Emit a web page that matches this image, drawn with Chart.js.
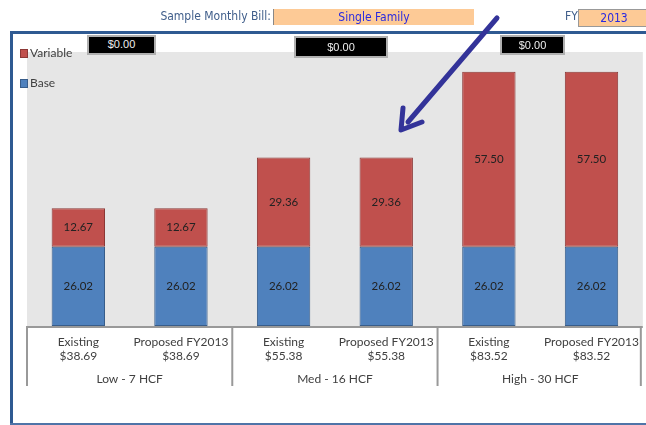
<!DOCTYPE html>
<html>
<head>
<meta charset="utf-8">
<script src="https://cdn.jsdelivr.net/npm/chart.js@4/dist/chart.umd.min.js"></script>
<style>
  body { margin: 0; background: #fff; font-family: "Lato", "DejaVu Sans", sans-serif; }
  #wrap { position: relative; width: 646px; height: 425px; overflow: hidden; }
  #chart { position: absolute; left: 0; top: 0; }
  .hdr { position: absolute; font-size: 12px; color: #3f5d8a; font-family: "DejaVu Sans Condensed", sans-serif; }
  .orange { position: absolute; background: #fdca96; color: #2a2ae0; font-size: 12px; text-align: center; line-height: 16px; font-family: "DejaVu Sans Condensed", sans-serif; }
  .blk { position: absolute; background: #000; color: #eee; font-size: 11px; text-align: center; border: 2px solid #b0b0b0; box-sizing: border-box; font-family: "Liberation Sans", sans-serif; }
  .lg { position: absolute; font-size: 12px; color: #404040; }
  .lg i { display: inline-block; width: 6px; height: 7px; margin-right: 2px; vertical-align: -1px; }
  #frameTop { position: absolute; left: 10px; top: 31px; width: 640px; height: 3px; background: #2f5a92; }
  #frameLeft { position: absolute; left: 10px; top: 31px; width: 3px; height: 394px; background: #2f5a92; }
  #frameBot { position: absolute; left: 10px; top: 423px; width: 640px; height: 2px; background: #4f74a8; }
  svg { position: absolute; left: 0; top: 0; }
</style>
</head>
<body>
<div id="wrap">
  <canvas id="chart" width="648" height="425"></canvas>
  <div class="hdr" style="right:375px;top:9px;">Sample Monthly Bill:</div>
  <div class="orange" style="left:273px;top:9px;width:200px;height:16px;border-left:1px solid #888;">Single Family</div>
  <div class="hdr" style="left:565px;top:9px;">FY</div>
  <div class="orange" style="left:578px;top:9px;width:70px;height:16px;border:1px solid #999;">2013</div>
  <div id="frameTop"></div>
  <div id="frameLeft"></div>
  <div id="frameBot"></div>
  <div class="blk" style="left:87px;top:35px;width:69px;height:20px;line-height:15px;">$0.00</div>
  <div class="blk" style="left:294px;top:36px;width:94px;height:22px;line-height:18px;">$0.00</div>
  <div class="blk" style="left:500px;top:35px;width:65px;height:20px;line-height:16px;">$0.00</div>
  <div class="lg" style="left:20px;top:45px;"><i style="background:#c0504d;border:1px solid #8c3836;"></i>Variable</div>
  <div class="lg" style="left:20px;top:75px;"><i style="background:#4f81bd;border:1px solid #385d8a;"></i>Base</div>
  <svg width="646" height="425">
    <line x1="497" y1="18" x2="408" y2="122" stroke="#333399" stroke-width="5" stroke-linecap="round"/>
    <polyline points="403,108 401,130 422,122" fill="none" stroke="#333399" stroke-width="5" stroke-linecap="round" stroke-linejoin="round"/>
  </svg>
</div>
<script>
// data
const scenarios = ['Existing', 'Proposed FY2013', 'Existing', 'Proposed FY2013', 'Existing', 'Proposed FY2013'];
const totals = ['$38.69', '$38.69', '$55.38', '$55.38', '$83.52', '$83.52'];
const groups = ['Low - 7 HCF', 'Med - 16 HCF', 'High - 30 HCF'];
const baseVals = [26.02, 26.02, 26.02, 26.02, 26.02, 26.02];
const variableVals = [12.67, 12.67, 29.36, 29.36, 57.50, 57.50];

const labels = scenarios.map((s, i) => [s, totals[i]]);

const bgPlugin = {
  id: 'bg',
  beforeDraw(chart) {
    const a = chart.chartArea, c = chart.ctx;
    c.save();
    c.fillStyle = '#e6e6e6';
    c.fillRect(a.left, a.top, a.right - a.left, a.bottom - a.top);
    c.restore();
  }
};

const axisPlugin = {
  id: 'groupAxis',
  afterDraw(chart) {
    const a = chart.chartArea, c = chart.ctx, x = chart.scales.x;
    c.save();
    c.strokeStyle = '#999';
    c.lineWidth = 2;
    c.beginPath();
    c.moveTo(a.left, a.bottom + 1);
    c.lineTo(a.right, a.bottom + 1);
    c.stroke();
    const per = scenarios.length / groups.length;
    c.fillStyle = '#404040';
    c.font = '12px Lato, "DejaVu Sans", sans-serif';
    c.textAlign = 'center';
    c.textBaseline = 'middle';
    for (let g = 0; g <= groups.length; g++) {
      let px;
      if (g == 0) px = a.left;
      else if (g == groups.length) px = a.right - 2;
      else px = (x.getPixelForValue(g * per - 1) + x.getPixelForValue(g * per)) / 2;
      c.beginPath();
      c.moveTo(px, a.bottom);
      c.lineTo(px, a.bottom + 60);
      c.stroke();
    }
    groups.forEach((gName, g) => {
      const mid = (x.getPixelForValue(g * per) + x.getPixelForValue(g * per + per - 1)) / 2;
      c.fillText(gName, mid, a.bottom + 53);
    });
    c.restore();
  }
};

const valuePlugin = {
  id: 'values',
  afterDatasetsDraw(chart) {
    const c = chart.ctx;
    c.save();
    c.fillStyle = '#222';
    c.font = '11.5px Lato, "DejaVu Sans", sans-serif';
    c.textAlign = 'center';
    c.textBaseline = 'middle';
    chart.data.datasets.forEach((ds, di) => {
      chart.getDatasetMeta(di).data.forEach((el, i) => {
        c.fillText(ds.data[i].toFixed(2), el.x, (el.y + el.base) / 2);
      });
    });
    c.restore();
  }
};

new Chart(document.getElementById('chart'), {
  type: 'bar',
  data: {
    labels: labels,
    datasets: [
      { label: 'Base', data: baseVals, backgroundColor: '#4f81bd', borderColor: '#385d8a', borderWidth: 1, borderSkipped: false, categoryPercentage: 1, barPercentage: 0.52 },
      { label: 'Variable', data: variableVals, backgroundColor: '#c0504d', borderColor: '#8c3836', borderWidth: 1, borderSkipped: false, categoryPercentage: 1, barPercentage: 0.52 }
    ]
  },
  options: {
    responsive: false,
    animation: false,
    layout: { padding: { left: 27, top: 52, right: 0, bottom: 0 } },
    plugins: { legend: { display: false }, tooltip: { enabled: false } },
    scales: {
      x: {
        stacked: true,
        grid: { display: false, drawTicks: false },
        border: { display: false },
        ticks: { color: '#404040', font: { family: 'Lato, "DejaVu Sans", sans-serif', size: 12 }, padding: 9, maxRotation: 0, autoSkip: false },
        afterFit(scale) { scale.height = 99; }
      },
      y: { stacked: true, display: false, min: 0, max: 90 }
    }
  },
  plugins: [bgPlugin, axisPlugin, valuePlugin]
});
</script>
</body>
</html>
